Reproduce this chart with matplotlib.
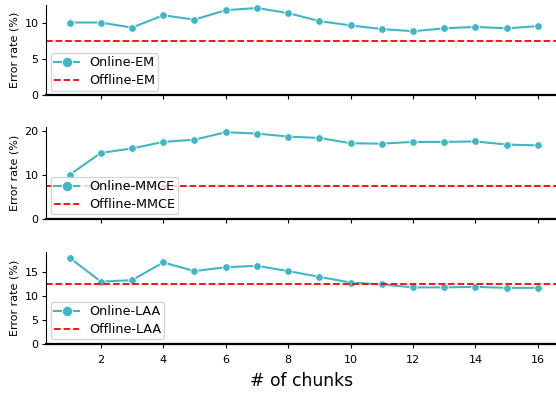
import numpy as np
import matplotlib
matplotlib.use("Agg")
import matplotlib.pyplot as plt

# data
chunks = list(range(1, 17))
online_em = [10.0, 10.0, 9.3, 11.0, 10.4, 11.7, 12.0, 11.3, 10.2, 9.6, 9.1, 8.8, 9.2, 9.4, 9.2, 9.5]
online_mmce = [10.0, 15.0, 16.0, 17.5, 18.0, 19.7, 19.4, 18.7, 18.4, 17.2, 17.1, 17.5, 17.5, 17.6, 16.9, 16.7]
online_laa = [18.0, 13.0, 13.3, 17.0, 15.2, 16.0, 16.3, 15.2, 14.0, 12.8, 12.4, 11.8, 11.8, 11.9, 11.7, 11.7]
offline_em = 7.5
offline_mmce = 7.5
offline_laa = 12.4

panels = [
    ("EM", online_em, offline_em, 12.4, [0, 5, 10]),
    ("MMCE", online_mmce, offline_mmce, 20.9, [0, 10, 20]),
    ("LAA", online_laa, offline_laa, 19.2, [0, 5, 10, 15]),
]

teal = "#41b6c4"

fig = plt.figure(figsize=(5.56, 3.93), dpi=100)
boxes = [(0.758, 0.987), (0.443, 0.677), (0.125, 0.359)]

for i, ((name, online, offline, ytop, yticks), (b, t)) in enumerate(zip(panels, boxes)):
    ax = fig.add_axes([0.083, b, 1.0 - 0.083, t - b])
    ax.plot(chunks, online, color=teal, marker="o", markersize=5.5,
            markeredgecolor="white", markeredgewidth=0.6, lw=1.5,
            label=f"Online-{name}")
    ax.axhline(offline, color="red", ls="--", lw=1.3, label=f"Offline-{name}")
    ax.set_xlim(0.25, 16.58)
    ax.set_ylim(0, ytop)
    ax.set_yticks(yticks)
    ax.set_xticks(range(2, 17, 2))
    ax.spines["top"].set_visible(False)
    ax.spines["right"].set_visible(False)
    ax.spines["bottom"].set_linewidth(1.6)
    ax.spines["left"].set_linewidth(0.8)
    ax.tick_params(axis="both", labelsize=8, length=3, width=0.8, pad=2.5)
    ax.tick_params(axis="x", pad=5)
    ax.set_ylabel("Error rate (%)", fontsize=8, labelpad=3.5)
    if i < 2:
        ax.tick_params(axis="x", labelbottom=False)
    else:
        ax.set_xlabel("# of chunks", fontsize=12.3, labelpad=5)
    ax.legend(loc="lower left", fontsize=9.2, handlelength=2.0,
              handletextpad=0.75, borderpad=0.25, labelspacing=0.4,
              borderaxespad=0.35, markerscale=1.35, framealpha=0.8)

fig.savefig("out.png", dpi=100)
